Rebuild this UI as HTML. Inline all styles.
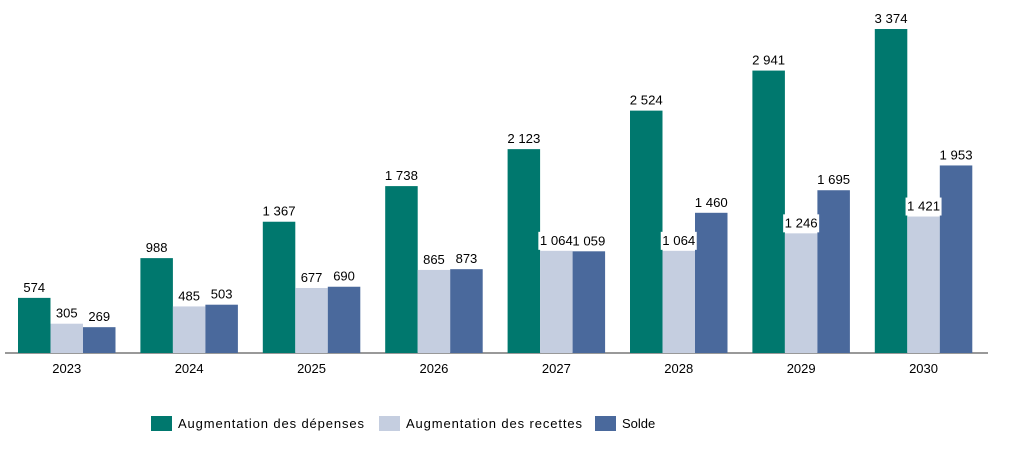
<!DOCTYPE html>
<html><head><meta charset="utf-8"><style>
body{margin:0;background:#fff;font-family:"Liberation Sans",sans-serif}
</style></head><body>
<svg id="chart" width="1009" height="444" style="font-family:'Liberation Sans',sans-serif">
<line x1="5" y1="353" x2="988" y2="353" stroke="#333" stroke-width="1"/>
<g id="bars"></g>
<g font-size="13" fill="#000" style="white-space:pre">
<rect x="151" y="416" width="21" height="15" fill="#00786E"/>
<text x="178" y="428" textLength="186" lengthAdjust="spacing">Augmentation  des dépenses</text>
<rect x="379" y="416" width="21" height="15" fill="#C5CEE0"/>
<text x="406" y="428" textLength="176" lengthAdjust="spacing">Augmentation  des recettes</text>
<rect x="595" y="416" width="21" height="15" fill="#4A699C"/>
<text x="622" y="428">Solde</text>
</g>
</svg>
<script>
const categories=["2023","2024","2025","2026","2027","2028","2029","2030"];
const depenses=[574,988,1367,1738,2123,2524,2941,3374];
const recettes=[305,485,677,865,1064,1064,1246,1421];
const solde=[269,503,690,873,1059,1460,1695,1953];
const seriesNames=["depenses","recettes","solde"];
const colors=["#00786E","#C5CEE0","#4A699C"];
const NS="http://www.w3.org/2000/svg";
const base=353, scale=324/3374, step=122.4, x0=18, bw=32.5;
function y(v){return base-v*scale;}
function fmt(v){return v>=1000?Math.floor(v/1000)+" "+String(v%1000).padStart(3,"0"):String(v);}
const g=document.getElementById("bars");
const all=[depenses,recettes,solde];
const labels=[];
categories.forEach((c,i)=>{
  all.forEach((s,k)=>{
    const v=s[i], x=x0+i*step+k*bw;
    const r=document.createElementNS(NS,"rect");
    r.setAttribute("x",x);r.setAttribute("y",y(v));r.setAttribute("width",bw);r.setAttribute("height",v*scale);r.setAttribute("fill",colors[k]);
    
    
    g.appendChild(r);
    labels.push([x+bw/2,y(v)-6,fmt(v),k,c]);
  });
  const t=document.createElementNS(NS,"text");
  t.setAttribute("x",x0+i*step+bw*1.5);t.setAttribute("y",373);t.setAttribute("text-anchor","middle");t.setAttribute("font-size","13");
  t.textContent=c;
  
  
  g.appendChild(t);
});
labels.forEach(([cx,ty,s,k,c])=>{
  if(k===1 && s.length>3){
    const b=document.createElementNS(NS,"rect");
    b.setAttribute("x",cx-18);b.setAttribute("y",ty-13);b.setAttribute("width",36);b.setAttribute("height",18);b.setAttribute("fill","#fff");
    
    
    g.appendChild(b);
  }
  const t=document.createElementNS(NS,"text");
  t.setAttribute("x",cx);t.setAttribute("y",ty);t.setAttribute("text-anchor","middle");t.setAttribute("font-size","13");
  if(s.length>3){t.setAttribute("textLength","33");t.setAttribute("lengthAdjust","spacingAndGlyphs");}
  t.textContent=s;
  
  
  g.appendChild(t);
});
</script>
</body></html>
